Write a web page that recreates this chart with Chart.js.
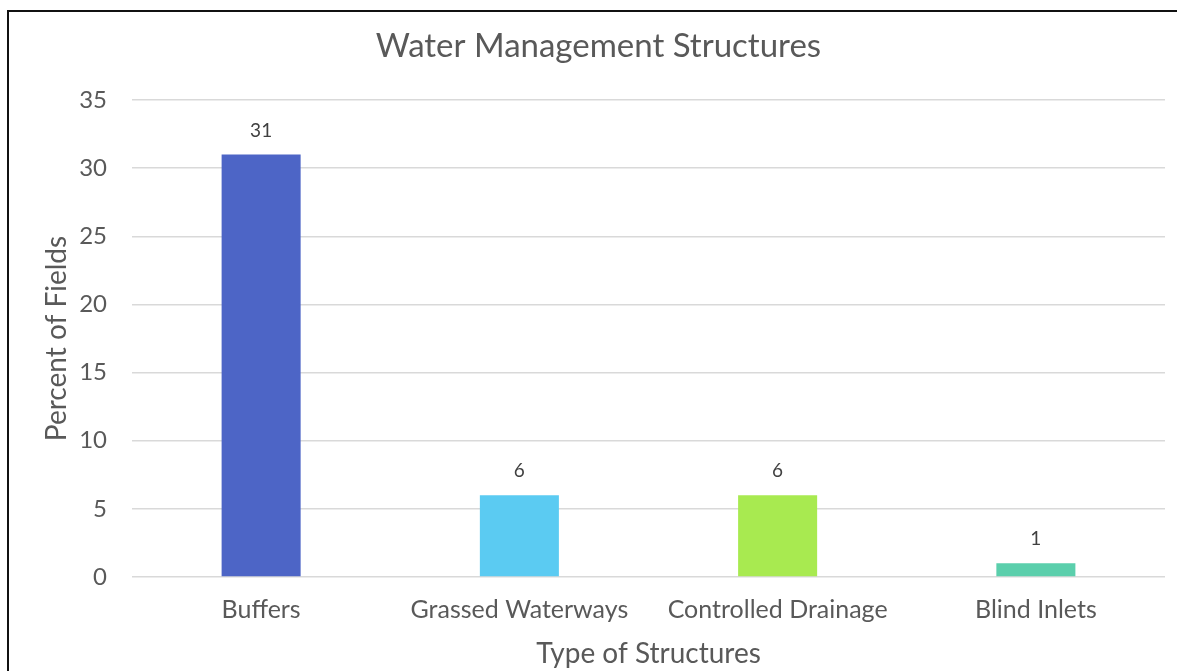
<!DOCTYPE html>
<html>
<head>
<meta charset="utf-8">
<script src="https://cdn.jsdelivr.net/npm/chart.js@4.4.0/dist/chart.umd.min.js"></script>
<style>
  html, body { margin: 0; padding: 0; background: #fff; overflow: hidden; width: 1177px; height: 671px; }
  .rule { position: absolute; background: #111; }
  #wrap { position: absolute; left: 0; top: 0; width: 1177px; height: 671px; }
</style>
</head>
<body>
<div class="rule" style="left:7px; top:10px; width:1170px; height:2px;"></div>
<div class="rule" style="left:7px; top:10px; width:2px; height:661px;"></div>
<div id="wrap"><canvas id="chart"></canvas></div>
<script>
// data
const categories = ['Buffers', 'Grassed Waterways', 'Controlled Drainage', 'Blind Inlets'];
const values = [31, 6, 6, 1];
const barColors = ['#4d65c6', '#5bcbf2', '#a8ea50', '#5bcfac'];
const yTicks = [0, 5, 10, 15, 20, 25, 30, 35];

const FONT = 'Lato, "Open Sans", sans-serif';
const GREY = '#595959';

// numbers above the bars
const valueLabels = {
    id: 'valueLabels',
    afterDatasetsDraw(chart) {
        const ctx = chart.ctx;
        const meta = chart.getDatasetMeta(0);
        ctx.save();
        ctx.fillStyle = '#404040';
        ctx.font = '19px ' + FONT;
        ctx.textAlign = 'center';
        ctx.textBaseline = 'alphabetic';
        meta.data.forEach((bar, i) => {
            ctx.fillText(String(values[i]), bar.x, bar.y - 18);
        });
        ctx.restore();
    }
};

// the original title sits a little right of the canvas centre
const titleShift = {
    id: 'titleShift',
    afterLayout(chart) {
        const t = chart.titleBlock;
        if (t) { t.left += 16; t.right += 16; }
    }
};

new Chart(document.getElementById('chart'), {
    type: 'bar',
    data: {
        labels: categories,
        datasets: [{
            data: values,
            backgroundColor: barColors,
            borderWidth: 0,
            barPercentage: 0.612,
            categoryPercentage: 0.5
        }]
    },
    options: {
        responsive: true,
        maintainAspectRatio: false,
        animation: false,
        layout: { padding: { left: 0, right: 12, top: 0, bottom: 0 } },
        plugins: {
            legend: { display: false },
            tooltip: { enabled: false },
            title: {
                display: true,
                text: 'Water Management Structures',
                color: GREY,
                font: { family: FONT, size: 33, weight: 'normal' },
                padding: { top: 27, bottom: 33.4 }
            }
        },
        scales: {
            x: {
                grid: { display: false },
                border: { display: false },
                ticks: { color: GREY, font: { family: FONT, size: 25 }, padding: 10, maxRotation: 0 },
                title: { display: true, text: 'Type of Structures', color: GREY,
                         font: { family: FONT, size: 28 }, padding: { top: 0, bottom: 0 } },
                afterFit(scale) { scale.height = 94; }
            },
            y: {
                min: 0,
                max: 35,
                afterBuildTicks(scale) { scale.ticks = yTicks.map(v => ({ value: v })); },
                grid: { color: '#d9d9d9', lineWidth: 1.5, drawTicks: false },
                border: { display: false },
                ticks: { color: GREY, font: { family: FONT, size: 24 }, padding: 25 },
                title: { display: true, text: 'Percent of Fields', color: GREY,
                         font: { family: FONT, size: 28 }, padding: { top: 40 } },
                afterFit(scale) { scale.width = 132; }
            }
        }
    },
    plugins: [valueLabels, titleShift]
});
</script>
</body>
</html>
